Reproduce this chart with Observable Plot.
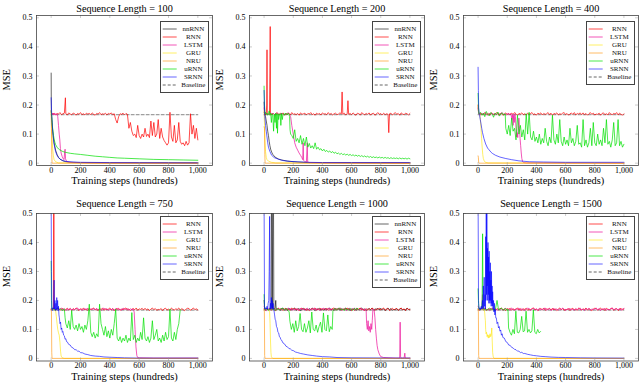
<!DOCTYPE html>
<html>
<head>
<meta charset="utf-8">
<script src="https://cdn.jsdelivr.net/npm/d3@7"></script>
<script src="https://cdn.jsdelivr.net/npm/@observablehq/plot@0.6"></script>
<style>
  html, body { margin: 0; padding: 0; background: #fff; }
  #root { position: relative; width: 640px; height: 385px; overflow: hidden; font-family: "Liberation Serif", "Times New Roman", serif; font-weight: normal; }
  .panel { position: absolute; }
  .panel text { font-weight: normal; }
  .legend { position: absolute; box-sizing: border-box; width: 49px; border: 0.8px solid #444; background: #fff; padding: 3px 0 3px 0; font-size: 7px; color: #111; }
  .lrow { display: flex; align-items: center; height: 8.1px; }
  .lrow svg { flex: none; display: block; }
  .lrow span { flex: 1; text-align: center; line-height: 8px; white-space: nowrap; }
</style>
</head>
<body>
<div id="root"></div>
<script>
// ---------- axes / labels ----------
const xTicks = [0, 200, 400, 600, 800, 1000];
const xTickLabels = ["0", "200", "400", "600", "800", "1,000"];
const yTicks = [0, 0.1, 0.2, 0.3, 0.4, 0.5];
const yTickLabels = ["0", "0.1", "0.2", "0.3", "0.4", "0.5"];
const seqLengths = [100, 200, 400, 750, 1000, 1500];
const modelNames = ["nnRNN", "RNN", "LSTM", "GRU", "NRU", "uRNN", "SRNN"];
const modelColors = ["#000000", "#ff0000", "#ee1fa0", "#ffe600", "#ff9000", "#00e000", "#0000ff"];
const modelOpacity = [0.6, 0.7, 0.75, 0.6, 0.6, 0.7, 0.6];
const baselineMSE = 0.1667;
const baselineSteps = [0, 1000];

// ---------- series: [x,y] pairs, or bare y = previous x + 10 ----------
// Sequence length 100
const L100_nnRNN = [[0,.31],[1,.18],[3,.16],[6,.14],[10,.115],[15,.09],[20,.07],[30,.045],[40,.03],[50,.02],[60,.014],[80,.008],[100,.005],[130,.003],[200,.002],[400,.001],[1000,.001]];
const L100_RNN = [[0,.175],.168,.172,.166,.171,.169,.174,.167,.17,.172,[97,.225],[100,.17],
  .166,.173,.169,.167,.172,.17,.165,.171,.168,.174,.167,.17,.166,.172,.169,.171,.167,.173,.168,.165,.171,.169,.174,.167,.17,.168,.172,.166,.171,.169,.173,.167,.17,
  .15,.138,.16,.17,.168,.172,.166,.171,.168,
  .12,.14,.11,.095,.1,.088,.13,.095,.085,.1,.09,.12,.092,.1,.088,.145,.095,.14,.09,.1,
  .15,.085,.12,.09,.078,.07,.062,.07,.175,.09,.075,.13,.07,.08,.14,.075,.065,.07,.06,.075,
  .062,.07,.17,.1,.13,.085,.12,.08];
const L100_LSTM = [[0,.18],[5,.168],[10,.172],[15,.167],[20,.171],[25,.166],[30,.17],[35,.168],[40,.169],[45,.16],[50,.13],[55,.1],[59,.08],[63,.05],[68,.035],[75,.023],[82,.015],[88,.012],[92,.04],[95,.048],[98,.015],[105,.006],[120,.003],[150,.002],[250,.001],[1000,0]];
const L100_GRU = [[0,.18],[3,.14],[6,.09],[10,.05],[15,.025],[20,.012],[30,.005],[50,.001],[1000,0]];
const L100_NRU = [[0,.17],[2,.12],[4,.03],[6,0],[1000,0]];
const L100_uRNN = [[0,.18],[4,.16],[8,.13],[12,.11],[16,.095],[20,.083],[25,.072],[30,.064],[40,.055],[50,.049],[60,.045],[80,.04],[100,.037],[130,.034],[160,.032],[200,.03],[250,.027],[300,.024],[350,.022],[400,.02],[450,.018],[500,.017],[600,.015],[700,.013],[800,.012],[900,.011],[1000,.01]];
const L100_SRNN = [[0,.225],[2,.19],[5,.15],[10,.11],[15,.085],[20,.065],[30,.04],[40,.027],[50,.019],[60,.014],[80,.009],[100,.006],[150,.004],[200,.003],[400,.002],[1000,.001]];

// Sequence length 200
const L200_nnRNN = [[0,.21],[3,.17],[10,.16],[20,.13],[25,.11],[30,.095],[35,.075],[40,.06],[45,.048],[52,.038],[60,.03],[75,.021],[100,.014],[120,.011],[160,.007],[230,.004],[300,.002],[1000,.001]];
const L200_RNN = [[0,.175],[5,.17],[10,.166],[15,.171],[18,.2],[20,.39],[22,.17],[30,.168],[37,.172],[40,.31],[42,.47],[44,.17],[50,.166],
  .172,.167,.17,.174,.166,.171,.168,.173,.165,.17,
  .169,.172,.166,.174,.168,.17,.167,.171,.165,.173,
  .168,.17,.172,.166,.171,.169,.174,.167,.17,.165,
  .172,.168,.171,.166,.173,.169,.17,.167,.174,.168,
  .171,.166,.17,.172,.167,.169,.173,
  [530,.17],[535,.245],[540,.168],.172,.166,.17,[575,.215],[580,.168],
  .171,.167,.173,.168,.165,.172,.17,.166,.174,.169,
  .167,.171,.168,.173,.166,.17,.172,.165,.169,.174,
  .168,.171,.166,.172,.167,.17,
  [850,.168],[855,.105],[860,.17],
  .172,.166,.17,.174,.168,.171,.165,.173,.169,.167,.172,.17,.166,.171];
const L200_LSTM = [[0,.19],[5,.17],.172,.166,.17,.174,.168,.171,.165,.173,.169,.167,.172,.17,.166,.171,.168,.174,.167,
  [182,.16],[190,.13],[200,.1],[210,.07],[220,.055],[230,.045],[240,.035],[250,.027],[258,.02],[265,.012],[268,.07],[271,.01],[280,.005],[290,.004],[296,.07],[299,.004],[310,.002],[400,.001],[1000,0]];
const L200_GRU = [[0,.18],[3,.13],[6,.08],[10,.04],[15,.02],[20,.012],[30,.007],[50,.003],[80,.001],[1000,0]];
const L200_NRU = [[0,.125],[3,.12],[5,.03],[7,0],[1000,0]];
const L200_uRNN = [[0,.265],[3,.2],[6,.17],[10,.175],[15,.168],[20,.172],[25,.165],[30,.17],[35,.18],[40,.165],[45,.172],[50,.14],[55,.17],[60,.165],[65,.11],[70,.168],[75,.14],[80,.172],[85,.12],[88,.17],[92,.103],[96,.17],[100,.15],[105,.168],[110,.17],[115,.13],[120,.172],[125,.15],[130,.168],[135,.17],[140,.165],[145,.172],[150,.168],[155,.17],[160,.166],[165,.172],[170,.168],[175,.16],[178,.115],[182,.1],[190,.095],
  .085,.115,.075,.085,.07,.095,.065,.085,.06,.09,
  .055,.068,.052,.06,.05,.07,.048,.055,.046,.05,
  .042,.048,.04,.044,.038,.042,.036,.04,.034,.038,
  .032,.035,.03,.034,.029,.032,.028,.031,.027,.03,
  .026,.029,.025,.028,.024,.027,.023,.026,.022,.025,
  .021,.024,.02,.023,.019,.022,.019,.021,.018,.021,
  .018,.02,.017,.02,.017,.019,.016,.019,.016,.018,
  .016,.018,.015,.018,.015,.017,.015,.017,.014,.017,
  .015];
const L200_SRNN = [[0,.25],[2,.2],[5,.16],[10,.13],[15,.11],[20,.09],[25,.07],[30,.055],[40,.04],[52,.027],[70,.019],[98,.0135],[130,.009],[180,.006],[234,.0045],[300,.003],[400,.002],[1000,.002]];

// Sequence length 400
const L400_RNN = [[0,.2],[3,.175],[10,.168],
  .172,.166,.17,.174,.167,.171,.165,.173,.169,.168,
  .171,.174,.166,.17,.172,.165,.169,.173,.167,.171,
  .166,.172,.168,.174,.17,.165,.171,.169,.173,.167,
  .17,.166,.172,.168,.171,.174,.167,.17,.165,.172,
  .169,.173,.166,.171,.168,.17,.174,.167,.172,.165,
  .171,.169,.173,.166,.17,.168,.172,.174,.167,.171,
  .165,.17,.172,.168,.174,.166,.171,.169,.173,.167,
  .173,.167,.171,.165,.17,.174,.168,.172,.166,.169,
  .168,.172,.165,.171,.173,.167,.17,.166,.174,.169,
  .167,.171,.169,.174,.166,.172,.168,.165,.17];
const L400_LSTM = [[0,.19],[5,.17],
  .166,.172,.168,.174,.17,.165,.171,.169,.173,.167,
  .17,.166,.172,.168,.171,.174,.167,.17,.165,.172,.168,.171,
  [232,.15],[236,.168],[240,.13],[244,.165],[248,.14],[252,.17],[256,.16],[260,.12],[264,.09],[268,.105],[272,.088],[276,.13],[280,.155],[284,.12],[288,.085],[292,.06],[296,.035],[300,.016],[305,.006],[312,.002],[330,.001],[1000,0]];
const L400_GRU = [[0,.2],[3,.172],[8,.168],[12,.166],[16,.15],[20,.12],[24,.085],[28,.055],[32,.03],[36,.016],[42,.008],[50,.003],[70,.001],[1000,0]];
const L400_NRU = [[0,.025],[2,.02],[4,.002],[6,0],[1000,0]];
const L400_uRNN = [[0,.24],[3,.19],[6,.17],
  .175,.165,.172,.16,.178,.168,.163,.174,.17,.158,.172,.167,.176,.162,.17,.173,.165,.17,
  [190,.12],
  .1,.13,.095,.155,.11,.12,.08,.165,.1,.13,
  .09,.115,.08,.17,.1,.175,.09,.08,.11,.075,
  .09,.07,.1,.065,.085,.07,.12,.075,.06,.09,
  .07,.165,.08,.065,.1,.07,.15,.075,.06,.09,
  .065,.08,.06,.12,.07,.085,.06,.075,.13,.065,
  .07,.055,.15,.06,.08,.055,.07,.12,.06,.14,
  .07,.06,.1,.065,.08,.06,.12,.07,.15,.065,
  .075,.055,.08,.14,.06,.07,.15,.06,.075,.055,
  .065];
const L400_SRNN = [[0,.33],[2,.25],[4,.19],[7,.17],[10,.165],[15,.15],[20,.135],[25,.12],[30,.106],[40,.085],[52,.066],[65,.052],[75,.046],[90,.037],[100,.033],[120,.027],[150,.021],[190,.016],[230,.012],[280,.008],[350,.005],[450,.004],[600,.003],[1000,.003]];

// Sequence length 750
const L750_RNN = [[0,.17],[8,.172],[15,.17],[18,.8],[21,.17],[30,.168],
  .171,.174,.166,.17,.172,.165,.169,.173,.167,.171,
  .166,.172,.168,.174,.17,.165,.171,.169,.173,.167,
  .17,.166,.172,.168,.171,.174,.167,.17,.165,.172,
  .169,.173,.166,.171,.168,.17,.174,.167,.172,.165,
  .171,.169,.173,.166,.17,.168,.172,.174,.167,.171,
  .165,.17,.172,.168,.174,.166,.171,.169,.173,.167,
  .173,.167,.171,.165,.17,.174,.168,.172,.166,.169,
  .168,.172,.165,.171,.173,.167,.17,.166,.174,.169,
  .167,.171,.169,.174,.166,.172,.168,.165,.17,.173,
  .172,.166,.17,.174,.168,.171,.167];
const L750_LSTM = [[0,.17],
  .169,.173,.166,.171,.168,.17,.174,.167,.172,.165,
  .171,.169,.173,.166,.17,.168,.172,.174,.167,.171,
  .165,.17,.172,.168,.174,.166,.171,.169,.173,.167,
  .173,.167,.171,.165,.17,.174,.168,.172,.166,.169,
  .168,.172,.165,.171,.173,.167,.17,.166,.174,.169,
  .169,.172,.166,.171,.168,.17,
  [566,.16],[572,.1],[578,.04],[584,.01],[590,.003],[600,.002],[700,.001],[1000,.001]];
const L750_GRU = [[0,.17],[20,.168],[30,.166],[35,.145],[40,.12],[45,.1],[50,.088],[55,.08],[60,.055],[64,.025],[68,.008],[75,.002],[90,0],[1000,0]];
const L750_NRU = [[0,.17],[2,.16],[4,.02],[6,0],[1000,0]];
const L750_uRNN = [[0,.335],[2,.2],[5,.17],
  .172,.166,.17,.175,.168,.171,.165,.17,
  [90,.17],[95,.14],[100,.12],
  .105,.13,.1,.165,.11,.1,.115,.095,.12,
  .1,.11,.09,.115,.1,.13,.187,.09,.075,.09,
  .07,.085,.075,.187,.12,.1,.08,.11,.075,.095,
  .07,.1,.08,.12,.17,.07,.06,.075,.055,.07,
  .06,.08,.055,.07,.06,.158,.065,.08,.055,.07,
  .06,.09,.065,.14,.07,.06,.075,.055,.07,.13,
  .065,.08,.1,.06,.07,.055,.08,.06,.09,.065,
  .075,.17,.07,.06,.09,.065,.1,.12,
  [880,.168]];
const L750_SRNN = [[0,.56],[2,.3],[4,.17],[8,.165],[12,.175],[16,.17],[20,.27],[23,.17],[26,.2],[29,.165],[32,.19],[35,.168],[38,.21],[41,.17],[44,.2],[47,.165],[50,.18],[53,.15],[56,.14],[60,.12],[64,.125],[68,.1],[72,.105],[76,.09],[80,.093],[85,.08],[90,.078],[95,.066],[100,.068],[105,.058],[110,.057],[120,.048],[130,.046],[140,.038],[150,.036],[160,.03],[170,.03],[180,.025],[190,.025],[200,.02],[215,.019],[230,.015],[250,.013],[270,.01],[300,.008],[330,.007],[360,.005],[400,.004],[450,.003],[500,.002],[600,.001],[1000,.001]];

// Sequence length 1000
const L1000_nnRNN = [[0,.2],[4,.17],[10,.168],[20,.171],[30,.167],[40,.17],[48,.17],[52,.8],[56,.17],[63,.8],[67,.17],[75,.172],[80,.2],[83,.168],[90,.17],
  .172,.166,.17,.174,.167,.171,.165,.173,.169,.168,
  .171,.174,.166,.17,.172,.165,.169,.173,.167,.171,
  .166,.172,.168,.174,.17,.165,.171,.169,.173,.167,
  .17,.166,.172,.168,.171,.174,.167,.17,.165,.172,
  .169,.173,.166,.171,.168,.17,.174,.167,.172,.165,
  .171,.169,.173,.166,.17,.168,.172,.174,.167,.171,
  .165,.17,.172,.168,.174,.166,.171,.169,.173,.167,
  .173,.167,.171,.165,.17,.174,.168,.172,.166,.169,
  .168,.172,.165,.171,.173,.167,.17,.166,.174,.169,
  .17];
const L1000_RNN = [[0,.17],
  .167,.171,.169,.174,.166,.172,.168,.165,.17,.173,
  .168,.172,.165,.171,.173,.167,.17,.166,.174,.169,
  .173,.167,.171,.165,.17,.174,.168,.172,.166,.169,
  .165,.17,.172,.168,.174,.166,.171,.169,.173,.167,
  .171,.169,.173,.166,.17,.168,.172,.174,.167,.171,
  .169,.173,.166,.171,.168,.17,.174,.167,.172,.165,
  .17,.166,.172,.168,.171,.174,.167,.17,.165,.172,
  .166,.172,.168,.174,.17,.165,.171,.169,.173,.167,
  .171,.174,.166,.17,.172,.165,.169,.173,.167,.171,
  .172,.166,.17,.174,.167,.171,.165,.173,.169,.168];
const L1000_LSTM = [[0,.18],[5,.17],
  .165,.17,.172,.168,.174,.166,.171,.169,.173,.167,
  .173,.167,.171,.165,.17,.174,.168,.172,.166,.169,
  .168,.172,.165,.171,.173,.167,.17,.166,.174,.169,
  .167,.171,.169,.174,.166,.172,.168,.165,.17,.173,
  .172,.166,.17,.174,.167,.171,.165,.173,.169,.168,
  .171,.174,.166,.17,.172,.165,.169,.173,.167,.171,
  .171,.166,.173,.169,.167,.172,.17,.165,.171,
  [700,.165],[703,.12],[708,.1],[713,.13],[718,.095],[723,.11],[728,.09],[733,.12],[738,.1],[742,.13],[746,.17],[750,.168],[755,.165],[760,.14],[765,.1],[770,.07],[775,.045],[780,.03],[790,.015],[800,.006],[820,.003],[850,.002],[900,.001],[930,.001],[933,.125],[936,.005],[940,.001],[960,.001],[965,.018],[968,.001],[1000,.001]];
const L1000_GRU = [[0,.17],[30,.168],[38,.16],[41,.12],[44,.06],[47,.02],[50,.005],[60,0],[1000,0]];
const L1000_NRU = [[0,.17],[2,.16],[4,.01],[6,0],[1000,0]];
const L1000_uRNN = [[0,.22],[3,.18],[6,.17],
  .172,.166,.17,.174,.167,.171,.165,.173,.169,.168,.171,.174,.166,.17,.172,.165,
  [172,.16],[177,.128],
  .1,.12,.09,.13,.095,.11,.155,.1,.092,.12,
  .09,.105,.13,.088,.16,.1,.095,.115,.09,.11,
  .125,.09,.157,.1,.095,.15,.092,.11,.1,
  [472,.163],[478,.17],
  .172,.166,.17,.174,.168,.171,.165,.173,.169,.167,.172,.17,.166,.171,.168,.174,.167];
const L1000_SRNN = [[0,.55],[3,.17],[8,.168],[12,.175],[16,.17],[20,.18],[24,.168],[28,.19],[32,.2],[35,.3],[38,.49],[41,.17],[44,.19],[47,.17],[50,.21],[53,.175],[56,.2],[59,.17],[62,.19],[65,.17],[68,.165],[72,.15],[76,.135],[80,.13],[85,.11],[90,.105],[95,.09],[100,.088],[105,.075],[110,.073],[115,.065],[120,.063],[130,.053],[140,.05],[150,.042],[160,.04],[170,.034],[180,.033],[190,.028],[200,.027],[215,.022],[230,.02],[250,.017],[270,.015],[300,.012],[330,.01],[360,.008],[400,.006],[450,.005],[500,.003],[600,.002],[1000,.001]];

// Sequence length 1500
const L1500_RNN = [[0,.17],
  .166,.172,.168,.174,.17,.165,.171,.169,.173,.167,
  .17,.166,.172,.168,.171,.174,.167,.17,.165,.172,
  .169,.173,.166,.171,.168,.17,.174,.167,.172,.165,
  .171,.169,.173,.166,.17,.168,.172,.174,.167,.171,
  .165,.17,.172,.168,.174,.166,.171,.169,.173,.167,
  .173,.167,.171,.165,.17,.174,.168,.172,.166,.169,
  .168,.172,.165,.171,.173,.167,.17,.166,.174,.169,
  .167,.171,.169,.174,.166,.172,.168,.165,.17,.173,
  .172,.166,.17,.174,.167,.171,.165,.173,.169,.168,
  .171,.174,.166,.17,.172,.165,.169,.173,.167,.171];
const L1500_LSTM = [[0,.18],[10,.17],[20,.172],[27,.175],[30,.22],[33,.17],[40,.168],
  .173,.167,.171,.165,.17,.174,.168,.172,.166,.169,
  .168,.172,.165,.171,.173,.167,.17,.166,.174,.169,
  .167,.171,.169,.174,.166,.172,.168,.165,.17,.173,
  .172,.166,.17,.174,.167,.171,.165,.173,.169,.168,
  .171,.174,.166,.17,.172,.165,.169,.173,.167,.171,
  .166,.172,.168,.174,.17,.165,.171,.169,.173,.167,
  .17,.166,.172,.168,.171,.174,.167,.17,.165,.172,
  .169,.173,.166,.171,.168,.17,.174,.167,.172,.165,
  .171,.169,.173,.166,.17,.168,.172,.174,.167,.171,
  .171,.167,.173,.166,.17,.172];
const L1500_GRU = [[0,.17],[30,.168],[40,.17],[45,.16],[48,.14],[50,.13],[52,.1],[55,.085],[58,.09],[62,.075],[66,.082],[70,.07],[74,.08],[78,.072],[82,.085],[86,.075],[90,.08],[94,.105],[97,.06],[100,.02],[104,.005],[110,0],[1000,0]];
const L1500_NRU = [[0,.17],[2,.16],[4,.01],[6,0],[1000,0]];
const L1500_uRNN = [[0,.24],[3,.19],[6,.17],[10,.172],[15,.168],[20,.17],[25,.175],[28,.2],[31,.43],[34,.18],[37,.17],[40,.168],
  .172,.166,.17,.174,.167,.171,.165,.173,.2,.168,.171,.174,.166,.17,.172,.165,
  [205,.17],[209,.105],
  .09,.08,.1,.085,.163,.09,.088,.1,.145,.092,
  .095,.163,.09,.1,.088,.095,.168,.09,.085,.1,
  .088,.093];
const L1500_SRNN = [[0,.56],[3,.2],[6,.17],[10,.168],[14,.175],[18,.168],[22,.18],[26,.17],[30,.2],[33,.17],[36,.25],[39,.175],[42,.28],[45,.18],[48,.22],[50,.17],[52,.42],[54,.2],[56,.56],[58,.22],[60,.56],[62,.25],[64,.38],[66,.2],[68,.4],[70,.22],[72,.35],[74,.19],[76,.37],[78,.2],[80,.3],[82,.19],[84,.33],[86,.2],[88,.27],[90,.18],[92,.3],[94,.19],[96,.25],[98,.18],[100,.23],[103,.17],[106,.2],[109,.16],[112,.19],[115,.15],[118,.17],[121,.14],[125,.14],[130,.12],[135,.125],[140,.105],[145,.11],[150,.094],[155,.098],[160,.08],[165,.085],[170,.072],[180,.07],[190,.058],[200,.055],[210,.046],[220,.045],[230,.038],[240,.036],[250,.031],[260,.03],[270,.025],[280,.025],[290,.02],[300,.021],[310,.017],[320,.017],[340,.014],[360,.012],[380,.01],[400,.009],[430,.007],[460,.006],[500,.0045],[550,.0035],[600,.003],[700,.002],[800,.0015],[1000,.001]];

// ---------- assembly ----------
function toPoints(spec) {
  const out = []; let x = -10;
  for (const item of spec) {
    let y;
    if (Array.isArray(item)) { x = item[0]; y = item[1]; } else { x += 10; y = item; }
    if (y != null) out.push({x, y});
  }
  return out;
}

const panelSeries = [
  {nnRNN: L100_nnRNN, RNN: L100_RNN, LSTM: L100_LSTM, GRU: L100_GRU, NRU: L100_NRU, uRNN: L100_uRNN, SRNN: L100_SRNN},
  {nnRNN: L200_nnRNN, RNN: L200_RNN, LSTM: L200_LSTM, GRU: L200_GRU, NRU: L200_NRU, uRNN: L200_uRNN, SRNN: L200_SRNN},
  {RNN: L400_RNN, LSTM: L400_LSTM, GRU: L400_GRU, NRU: L400_NRU, uRNN: L400_uRNN, SRNN: L400_SRNN},
  {RNN: L750_RNN, LSTM: L750_LSTM, GRU: L750_GRU, NRU: L750_NRU, uRNN: L750_uRNN, SRNN: L750_SRNN},
  {nnRNN: L1000_nnRNN, RNN: L1000_RNN, LSTM: L1000_LSTM, GRU: L1000_GRU, NRU: L1000_NRU, uRNN: L1000_uRNN, SRNN: L1000_SRNN},
  {RNN: L1500_RNN, LSTM: L1500_LSTM, GRU: L1500_GRU, NRU: L1500_NRU, uRNN: L1500_uRNN, SRNN: L1500_SRNN}
];

// layout (pixels)
const colLeft = [36, 249, 463], colWidth = [176, 175, 175];
const rowTop = [15, 212.5], rowHeight = [150, 147.5];
const rowMT = [15, 19], titleDy = [-10.3, -14.2], legendTopOff = [5.5, 3];
const yDomains = [[-0.008, 0.508], [-0.009, 0.5]];
const mL = 36, mR = 3, mB = 27;
const FONT = '"Liberation Serif", "Times New Roman", serif';

const root = document.getElementById("root");

seqLengths.forEach((len, i) => {
  const col = i % 3, row = Math.floor(i / 3);
  const fw = colWidth[col], fh = rowHeight[row], mT = rowMT[row];
  const series = panelSeries[i];
  const names = modelNames.filter(n => series[n]);
  const baseData = baselineSteps.map(x => ({x, y: baselineMSE}));
  const lineStyle = {strokeWidth: 1, clip: true, strokeLinejoin: "round"};

  const marks = [
    Plot.line(baseData, {x: "x", y: "y", stroke: "#000", strokeOpacity: 0.6, strokeDasharray: "3,2", clip: true, strokeWidth: 0.8}),
    ...names.map(n => {
      const k = modelNames.indexOf(n);
      return Plot.line(toPoints(series[n]), {x: "x", y: "y", stroke: modelColors[k], strokeOpacity: modelOpacity[k], ...lineStyle});
    }),
    Plot.tickY(yTicks, {y: d => d, insetRight: fw - 3, stroke: "#999", strokeWidth: 0.5}),
    Plot.tickY(yTicks, {y: d => d, insetLeft: fw - 3, stroke: "#999", strokeWidth: 0.5}),
    Plot.tickX(xTicks, {x: d => d, insetTop: fh - 3, stroke: "#999", strokeWidth: 0.5}),
    Plot.tickX(xTicks, {x: d => d, insetBottom: fh - 3, stroke: "#999", strokeWidth: 0.5}),
    Plot.frame({stroke: "#444", strokeWidth: 0.8}),
    Plot.axisX(xTicks, {tickSize: 0, tickPadding: 1.5, tickFormat: d => xTickLabels[xTicks.indexOf(d)], label: null, fontSize: 8}),
    Plot.axisY(yTicks, {tickSize: 0, tickPadding: 4, tickFormat: d => yTickLabels[yTicks.indexOf(d)], label: null, fontSize: 8}),
    Plot.text([`Sequence Length = ${len}`], {text: d => d, frameAnchor: "top", dy: titleDy[row], fontSize: 10.2, fontWeight: "normal"}),
    Plot.text(["Training steps (hundreds)"], {text: d => d, frameAnchor: "bottom", dy: 18.8, fontSize: 10.4, fontWeight: "normal"}),
    Plot.text(["MSE"], {text: d => d, frameAnchor: "left", dx: -30, rotate: -90, fontSize: 10.4, fontWeight: "normal"})
  ];

  const svg = Plot.plot({
    width: mL + fw + mR,
    height: mT + fh + mB,
    marginLeft: mL, marginRight: mR, marginTop: mT, marginBottom: mB,
    x: {domain: [-100, 1100]},
    y: {domain: yDomains[row]},
    style: {fontFamily: FONT, fontSize: "8px", fontWeight: "normal", background: "transparent", overflow: "visible", color: "#000"},
    marks
  });
  svg.classList.add("panel");
  svg.style.left = (colLeft[col] - mL) + "px";
  svg.style.top = (rowTop[row] - mT) + "px";
  root.appendChild(svg);

  // legend
  const lg = document.createElement("div");
  lg.className = "legend";
  lg.style.left = (colLeft[col] + fw - 2.7 - 49) + "px";
  lg.style.top = (rowTop[row] + legendTopOff[row]) + "px";
  const entries = names.map(n => {
    const k = modelNames.indexOf(n);
    return {name: n, color: modelColors[k], op: modelOpacity[k], dash: ""};
  }).concat([{name: "Baseline", color: "#000", op: 0.6, dash: 'stroke-dasharray="3,2"'}]);
  for (const e of entries) {
    const r = document.createElement("div");
    r.className = "lrow";
    r.innerHTML = `<svg width="17" height="8"><line x1="1.7" x2="15.7" y1="4" y2="4" stroke="${e.color}" stroke-opacity="${e.op}" stroke-width="1" ${e.dash}/></svg><span>${e.name}</span>`;
    lg.appendChild(r);
  }
  root.appendChild(lg);
});
</script>
</body>
</html>
